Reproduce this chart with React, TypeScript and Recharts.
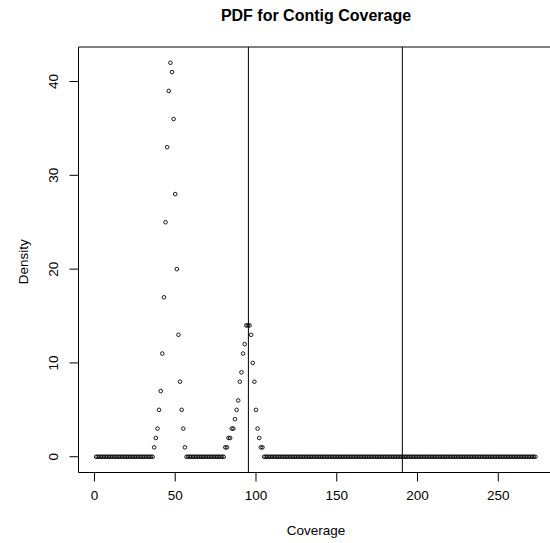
import React from 'react'
import { ScatterChart, Scatter, XAxis, YAxis, ReferenceLine, ReferenceArea } from 'recharts'

// coverage runs 1..273, one density value per coverage level
const coverageStart = 1
const density = [
  0, 0, 0, 0, 0, 0, 0, 0, 0, 0, 0, 0, 0, 0, 0, 0, 0, 0, 0, 0,
  0, 0, 0, 0, 0, 0, 0, 0, 0, 0, 0, 0, 0, 0, 0, 0,
  1, 2, 3, 5, 7, 11, 17, 25, 33, 39, 42, 41, 36, 28, 20, 13, 8, 5, 3, 1,
  0, 0, 0, 0, 0, 0, 0, 0, 0, 0, 0, 0, 0, 0, 0, 0, 0, 0, 0, 0, 0, 0, 0, 0,
  1, 1, 2, 2, 3, 3, 4, 5, 6, 8, 9, 11, 12, 14, 14, 14, 13, 10, 8, 5, 3, 2, 1, 1,
  0, 0, 0, 0, 0, 0, 0, 0, 0, 0, 0, 0, 0, 0, 0, 0, 0, 0, 0, 0,
  0, 0, 0, 0, 0, 0, 0, 0, 0, 0, 0, 0, 0, 0, 0, 0, 0, 0, 0, 0,
  0, 0, 0, 0, 0, 0, 0, 0, 0, 0, 0, 0, 0, 0, 0, 0, 0, 0, 0, 0,
  0, 0, 0, 0, 0, 0, 0, 0, 0, 0, 0, 0, 0, 0, 0, 0, 0, 0, 0, 0,
  0, 0, 0, 0, 0, 0, 0, 0, 0, 0, 0, 0, 0, 0, 0, 0, 0, 0, 0, 0,
  0, 0, 0, 0, 0, 0, 0, 0, 0, 0, 0, 0, 0, 0, 0, 0, 0, 0, 0, 0,
  0, 0, 0, 0, 0, 0, 0, 0, 0, 0, 0, 0, 0, 0, 0, 0, 0, 0, 0, 0,
  0, 0, 0, 0, 0, 0, 0, 0, 0, 0, 0, 0, 0, 0, 0, 0, 0, 0, 0, 0,
  0, 0, 0, 0, 0, 0, 0, 0, 0,
]
const cutoffs = [95.3, 190.6]
const xTicks = [0, 50, 100, 150, 200, 250]
const yTicks = [0, 10, 20, 30, 40]

const font = '"Liberation Sans", Arial, Helvetica, sans-serif'

const points = density.map((d, i) => ({ x: coverageStart + i, y: d }))

// R style axis padding: 4% on each side
const xMin = coverageStart
const xMax = coverageStart + density.length - 1
const xPad = (xMax - xMin) * 0.04
const yMax = Math.max(...density)
const yPad = yMax * 0.04
const xDomain: [number, number] = [xMin - xPad, xMax + xPad]
const yDomain: [number, number] = [0 - yPad, yMax + yPad]

const OpenCircle = (props: any) => {
  const { cx, cy } = props
  return <circle cx={cx} cy={cy} r={1.8} fill="none" stroke="#000" strokeWidth={0.9} />
}

const YTick = (props: any) => {
  const { x, y, payload } = props
  const bx = x - 9.5
  return (
    <text x={bx} y={y} transform={`rotate(-90 ${bx} ${y})`} textAnchor="middle" fontSize={13.5} fontFamily={font} fill="#000">
      {payload.value}
    </text>
  )
}

export default function App() {
  return (
    <div style={{ position: 'absolute', left: 0, top: 0, width: 550, height: 543, background: '#fff', overflow: 'hidden' }}>
      <ScatterChart width={550} height={543} margin={{ top: 47, right: -3, bottom: 0.5, left: 0.5 }}>
        <XAxis
          type="number"
          dataKey="x"
          domain={xDomain}
          ticks={xTicks}
          allowDataOverflow
          axisLine={false}
          tickLine={{ stroke: '#000' }}
          tickSize={9}
          tickMargin={9}
          height={70}
          tick={{ fontSize: 13.5, fontFamily: font, fill: '#000' }}
        />
        <YAxis
          type="number"
          dataKey="y"
          domain={yDomain}
          ticks={yTicks}
          allowDataOverflow
          axisLine={false}
          tickLine={{ stroke: '#000' }}
          tickSize={9}
          width={78}
          tick={<YTick />}
        />
        <ReferenceArea x1={xDomain[0]} x2={xDomain[1]} y1={yDomain[0]} y2={yDomain[1]} fill="none" stroke="#000" strokeWidth={1} />
        {cutoffs.map((c) => (
          <ReferenceLine key={c} x={c} stroke="#000" strokeWidth={1} />
        ))}
        <Scatter data={points} shape={<OpenCircle />} isAnimationActive={false} />
      </ScatterChart>
      <svg width={550} height={543} style={{ position: 'absolute', left: 0, top: 0, pointerEvents: 'none' }}>
        <text x={316} y={20.5} textAnchor="middle" fontSize={16} fontWeight="bold" fontFamily={font} fill="#000">
          PDF for Contig Coverage
        </text>
        <text x={316} y={535} textAnchor="middle" fontSize={13.5} fontFamily={font} fill="#000">
          Coverage
        </text>
        <text x={28.5} y={261.7} transform="rotate(-90 28.5 261.7)" textAnchor="middle" fontSize={13.5} fontFamily={font} fill="#000">
          Density
        </text>
      </svg>
    </div>
  )
}
